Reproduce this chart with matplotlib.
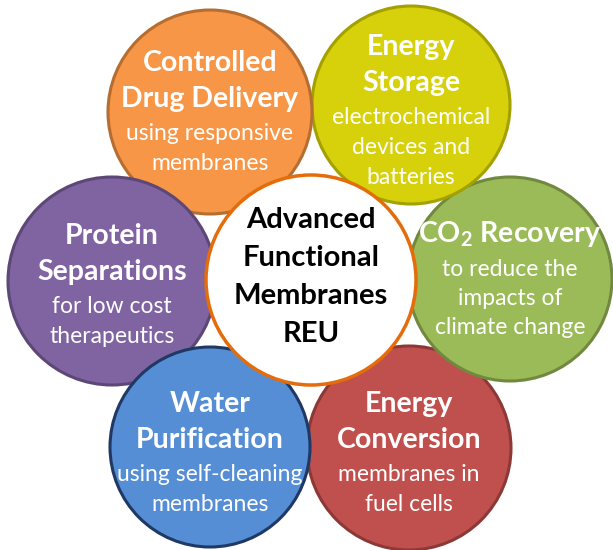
import matplotlib
matplotlib.use('Agg')
import matplotlib.pyplot as plt
from matplotlib.patches import Circle

plt.rcParams['font.family'] = ['Lato', 'DejaVu Sans']
plt.rcParams['mathtext.fontset'] = 'custom'
plt.rcParams['mathtext.rm'] = 'Lato:bold'

# outer circles, listed bottom to top (drawing order)
titles = [["Energy", "Conversion"],
          ["CO$_2$ Recovery"],
          ["Energy", "Storage"],
          ["Controlled", "Drug Delivery"],
          ["Protein", "Separations"],
          ["Water", "Purification"]]
subtitles = [["membranes in", "fuel cells"],
             ["to reduce the", "impacts of", "climate change"],
             ["electrochemical", "devices and", "batteries"],
             ["using responsive", "membranes"],
             ["for low cost", "therapeutics"],
             ["using self-cleaning", "membranes"]]
centers_x = [409, 510, 411, 210, 112, 210]
centers_y = [448, 279, 105, 112, 281, 447]
radii = [102, 102, 99, 102, 104, 100]
fills = ["#C0504D", "#9BBB59", "#D6D10A", "#F79646", "#8064A2", "#558ED5"]
edges = ["#8C3836", "#71893F", "#A3A000", "#B66D31", "#5C4776", "#1F3864"]
text_dy = [6, 2, 7, 1, 5, 7]   # shift of the text block below circle centre

center_lines = ["Advanced", "Functional", "Membranes", "REU"]
center_xy = (311, 280)
center_r = 105

fig = plt.figure(figsize=(6.13, 5.5), dpi=100)
ax = fig.add_axes([0, 0, 1, 1])
ax.set_xlim(0, 613)
ax.set_ylim(550, 0)
ax.set_aspect('equal')
ax.axis('off')

z = 1
for t, s, cx, cy, r, fc, ec, dy in zip(titles, subtitles, centers_x, centers_y,
                                       radii, fills, edges, text_dy):
    ax.add_patch(Circle((cx, cy), r, facecolor=fc, edgecolor=ec, lw=2.2, zorder=z))
    # stack lines: title 36px apart, gap 35, subtitle ~30px apart
    ys = [0]
    for i in range(1, len(t)):
        ys.append(ys[-1] + 36)
    ys.append(ys[-1] + 35)
    for i in range(1, len(s)):
        ys.append(ys[-1] + 29.5)
    off = cy + dy - (ys[0] + ys[-1]) / 2
    lines = [(l, True) for l in t] + [(l, False) for l in s]
    for (txt, bold), y in zip(lines, ys):
        ax.text(cx, y + off, txt, color='white', ha='center', va='center',
                fontsize=20.5 if bold else 16.5,
                fontweight='bold' if bold else 'normal', zorder=z + 0.5)
    z += 1

ax.add_patch(Circle(center_xy, center_r, facecolor='white', edgecolor='#E46C0A', lw=2.5, zorder=z))
for i, txt in enumerate(center_lines):
    ax.text(center_xy[0], 220 + i * 38, txt, color='black', ha='center', va='center',
            fontsize=21, fontweight='bold', zorder=z + 0.5)

fig.savefig('out.png', dpi=100)
